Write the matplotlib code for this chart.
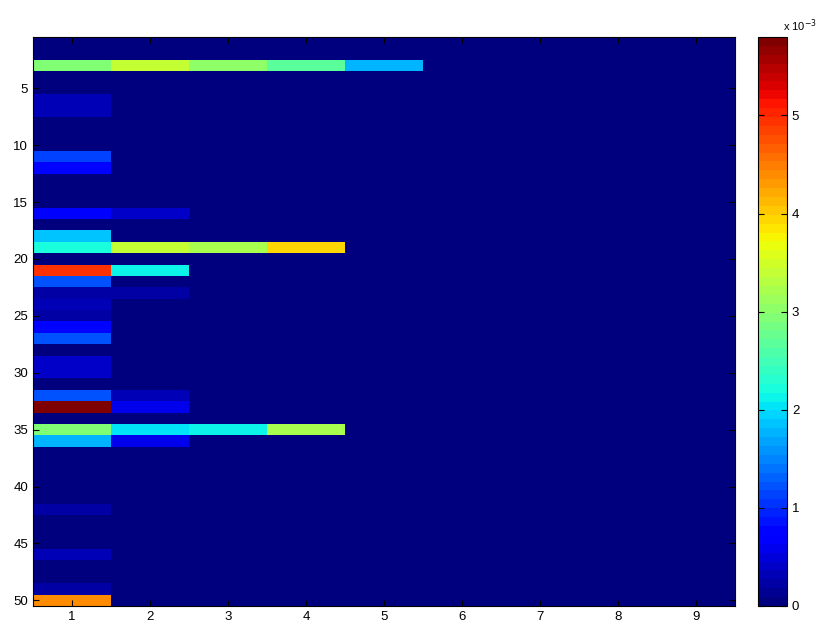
import numpy as np
import matplotlib
matplotlib.use("Agg")
from matplotlib import pyplot as plt

fontsize = 9.5
matplotlib.rcParams.update({'font.size': fontsize, 'font.family': 'Liberation Sans'})

n_rows = 50
n_cols = 9

# non-zero rows (1-based) and their values (x 1e-3) from column 1 onward
rows = [3, 6, 7, 11, 12, 16, 18, 19, 21, 22, 23, 24, 25, 26, 27,
        29, 30, 32, 33, 35, 36, 42, 46, 49, 50]
row_vals = [
    [2.9, 3.4, 3.0, 2.65, 1.75],
    [0.33],
    [0.33],
    [1.1],
    [0.8],
    [0.72, 0.45],
    [1.9],
    [2.2, 3.4, 3.25, 3.95],
    [4.95, 2.15],
    [1.2],
    [0.22, 0.27],
    [0.3],
    [0.25],
    [0.75],
    [1.2],
    [0.45],
    [0.45],
    [1.2, 0.3],
    [5.8, 0.6],
    [2.9, 2.0, 2.17, 3.25],
    [1.8, 0.6],
    [0.22],
    [0.35],
    [0.22],
    [4.35],
]

M = np.zeros((n_rows, n_cols))
for r, v in zip(rows, row_vals):
    M[r - 1, :len(v)] = np.array(v) * 1e-3

fig = plt.figure(figsize=(8.19, 6.24), dpi=100)
ax = fig.add_axes([33/819., 18/624., 702/819., 569/624.])
cax = fig.add_axes([758/819., 18/624., 29/819., 569/624.])

im = ax.imshow(M, cmap=plt.get_cmap('jet', 64), aspect='auto', interpolation='nearest',
               vmin=0, vmax=M.max(), extent=(0.5, n_cols + 0.5, n_rows + 0.5, 0.5))
ax.set_xticks(range(1, 10))
ax.set_yticks(range(5, 51, 5))
ax.tick_params(direction='in', top=True, right=True, length=4, color='k')

cb = fig.colorbar(im, cax=cax)
cb.set_ticks([0, 1e-3, 2e-3, 3e-3, 4e-3, 5e-3])
cb.set_ticklabels(['0', '1', '2', '3', '4', '5'])
cax.tick_params(direction='in', left=True, right=True, length=4)
cb.outline.set_linewidth(0.8)
fig.text(783/819., 1 - 26/624., r'x 10$^{-3}$', fontsize=8, ha='left', va='center')

plt.savefig('out.png', dpi=100)
